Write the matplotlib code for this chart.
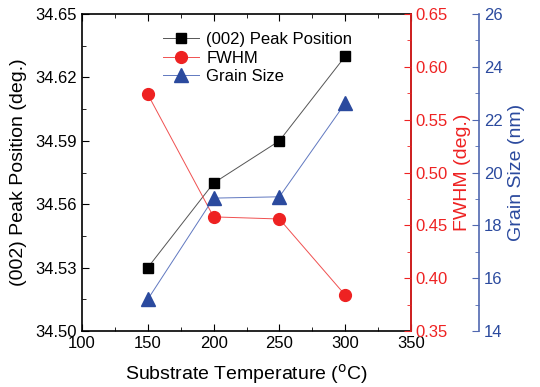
import matplotlib.pyplot as plt
from matplotlib.ticker import MultipleLocator

plt.rcParams['font.family'] = ['Liberation Sans', 'DejaVu Sans']

temperature = [150, 200, 250, 300]
peak_position = [34.530, 34.570, 34.590, 34.630]
fwhm = [0.574, 0.458, 0.456, 0.384]
grain_size = [15.2, 19.03, 19.08, 22.62]

red = '#ee2222'
blue = '#2b4a9e'
blue_axis = '#5068b0'

fig = plt.figure(figsize=(5.4, 3.87), dpi=100)
ax = fig.add_axes([82 / 540, 1 - 331 / 387, 329 / 540, 317 / 387])
ax2 = ax.twinx()
ax3 = ax.twinx()
ax3.spines['right'].set_position(('axes', 1 + 68 / 329))

l1, = ax.plot(temperature, peak_position, color='#555555', lw=0.7, marker='s',
              ms=7.5, mfc='black', mec='black', label='(002) Peak Position')
l2, = ax2.plot(temperature, fwhm, color='#f05050', lw=0.7, marker='o',
               ms=8.5, mfc=red, mec=red, label='FWHM')
l3, = ax3.plot(temperature, grain_size, color='#6078c0', lw=0.7, marker='^',
               ms=10, mfc=blue, mec=blue, label='Grain Size')

ax.set_xlim(100, 350)
ax.set_ylim(34.50, 34.65)
ax2.set_ylim(0.35, 0.65)
ax3.set_ylim(14, 26)

ax.xaxis.set_major_locator(MultipleLocator(50))
ax.xaxis.set_minor_locator(MultipleLocator(25))
ax.yaxis.set_major_locator(MultipleLocator(0.03))
ax.yaxis.set_minor_locator(MultipleLocator(0.015))
ax.yaxis.set_major_formatter(plt.FormatStrFormatter('%.2f'))
ax2.yaxis.set_major_locator(MultipleLocator(0.05))
ax2.yaxis.set_minor_locator(MultipleLocator(0.025))
ax2.yaxis.set_major_formatter(plt.FormatStrFormatter('%.2f'))
ax3.yaxis.set_major_locator(MultipleLocator(2))
ax3.yaxis.set_minor_locator(MultipleLocator(1))

ax.tick_params(which='both', direction='in', top=True, right=False, labelsize=12)
ax.tick_params(which='major', length=5)
ax.tick_params(which='minor', length=3)
ax2.tick_params(axis='y', which='both', direction='in', colors=red, labelsize=12)
ax2.tick_params(which='major', length=5)
ax2.tick_params(which='minor', length=3)
ax3.tick_params(axis='y', which='both', direction='in', colors=blue_axis, labelsize=12)
ax3.tick_params(which='major', length=5)
ax3.tick_params(which='minor', length=3)
for t in ax3.get_yticklabels():
    t.set_color(blue)

for s in ax.spines.values():
    s.set_linewidth(1.2)
ax2.spines['right'].set_color(red)
ax2.spines['right'].set_linewidth(1.2)
ax3.spines['right'].set_color(blue_axis)
ax3.spines['right'].set_linewidth(1.2)
for a in (ax2, ax3):
    for k in ('left', 'top', 'bottom'):
        a.spines[k].set_visible(False)

ax.set_xlabel('Substrate Temperature ($^{\\rm o}$C)', fontsize=14, labelpad=8)
ax.set_ylabel('(002) Peak Position (deg.)', fontsize=14, labelpad=6)
ax2.set_ylabel('FWHM (deg.)', fontsize=14, color=red, labelpad=4)
ax3.set_ylabel('Grain Size (nm)', fontsize=14, color=blue, labelpad=4)

ax.legend(handles=[l1, l2, l3], loc='upper left', bbox_to_anchor=(0.2, 0.99),
          frameon=False, fontsize=12, handlelength=2.2, labelspacing=0.2,
          handletextpad=0.4)

fig.savefig('out.png', dpi=100)
